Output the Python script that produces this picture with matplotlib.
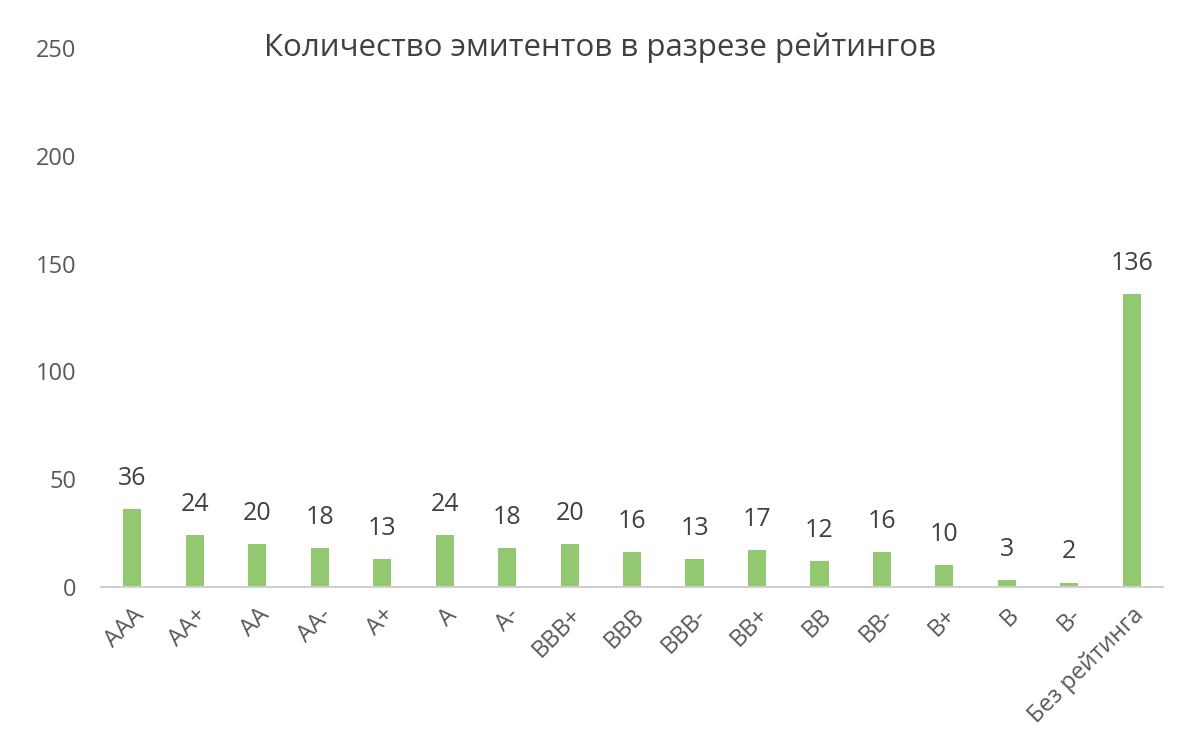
import numpy as np
import matplotlib
matplotlib.use('Agg')
import matplotlib.pyplot as plt

plt.rcParams['font.family'] = ['Open Sans', 'DejaVu Sans']

# Рейтинги и количество эмитентов
ratings = ['AAA', 'AA+', 'AA', 'AA-', 'A+', 'A', 'A-', 'BBB+', 'BBB', 'BBB-',
           'BB+', 'BB', 'BB-', 'B+', 'B', 'B-', 'Без рейтинга']
counts = [36, 24, 20, 18, 13, 24, 18, 20, 16, 13, 17, 12, 16, 10, 3, 2, 136]
yticks = [0, 50, 100, 150, 200, 250]

fig = plt.figure(figsize=(12, 7.4), dpi=100)
ax = fig.add_axes([0.0842, 0.207, 0.885, 0.728])

x = np.arange(len(ratings))
ax.bar(x, counts, width=0.29, color='#92C870', zorder=2)

# Подписи значений над столбцами
for xi, v in zip(x, counts):
    ax.annotate(str(v), (xi, v), xytext=(0, 13), textcoords='offset points',
                ha='center', va='bottom', fontsize=18, color='#404040')

ax.set_xlim(-0.5, len(ratings) - 0.5)
ax.set_ylim(0, 250)
ax.set_yticks(yticks)
ax.set_xticks(x)
ax.set_xticklabels(ratings, rotation=45, ha='right', rotation_mode='anchor')
ax.tick_params(axis='y', length=0, pad=18, labelsize=17, labelcolor='#595959')
ax.tick_params(axis='x', length=0, pad=12, labelsize=17, labelcolor='#595959')

for s in ['top', 'right', 'left']:
    ax.spines[s].set_visible(False)
ax.spines['bottom'].set_color('#D0D0D0')
ax.spines['bottom'].set_linewidth(1.5)

fig.text(0.5, 0.935, 'Количество эмитентов в разрезе рейтингов', ha='center', va='center',
         fontsize=22.5, color='#404040')

fig.savefig('out.png', dpi=100)
